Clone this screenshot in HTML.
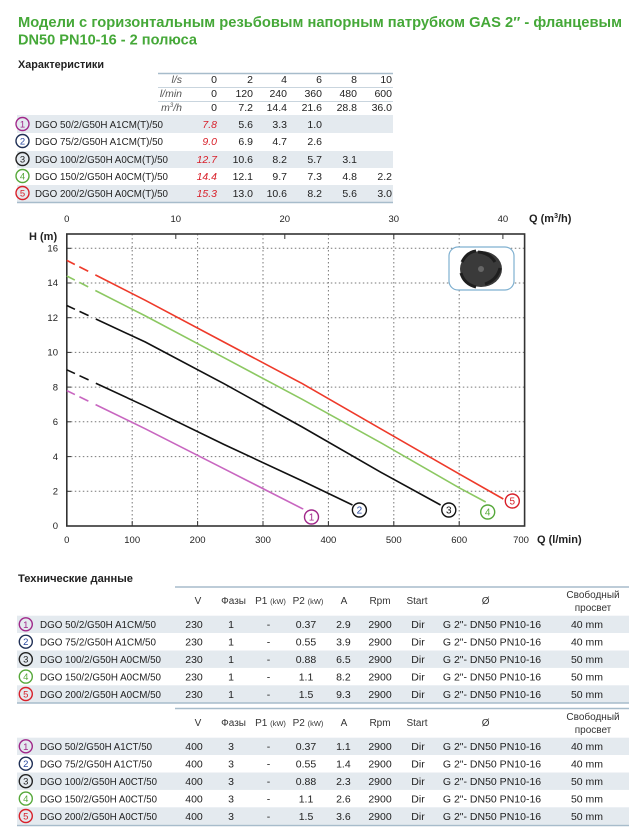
<!DOCTYPE html>
<html><head><meta charset="utf-8"><style>
html,body{margin:0;padding:0;background:#fff;}
svg{display:block;font-family:"Liberation Sans","DejaVu Sans",sans-serif;}
</style></head><body>
<svg width="640" height="829" viewBox="0 0 640 829" xmlns="http://www.w3.org/2000/svg">
<text x="18" y="27" font-size="15" font-weight="bold" fill="#45a838" textLength="604" lengthAdjust="spacingAndGlyphs">Модели с горизонтальным резьбовым напорным патрубком GAS 2″ - фланцевым</text>
<text x="18" y="44.5" font-size="15" font-weight="bold" fill="#45a838" textLength="179" lengthAdjust="spacingAndGlyphs">DN50 PN10-16 - 2 полюса</text>
<text x="18" y="68" font-size="11" font-weight="bold" fill="#222" textLength="86" lengthAdjust="spacingAndGlyphs">Характеристики</text>

<g>
<rect x="17" y="115" width="376" height="18" fill="#e4eaef"/>
<rect x="17" y="151" width="376" height="17" fill="#e4eaef"/>
<rect x="17" y="185" width="376" height="17" fill="#e4eaef"/>
<line x1="158" y1="73.5" x2="393" y2="73.5" stroke="#a7bccb" stroke-width="1.5"/>
<line x1="158" y1="87.5" x2="393" y2="87.5" stroke="#c9d5de" stroke-width="1"/>
<line x1="158" y1="101.5" x2="393" y2="101.5" stroke="#c9d5de" stroke-width="1"/>
<line x1="17" y1="202.5" x2="393" y2="202.5" stroke="#a7bccb" stroke-width="1.5"/>
<g font-size="10.5" fill="#555" font-style="italic" text-anchor="end">
<text x="182" y="83">l/s</text><text x="182" y="97">l/min</text><text x="182" y="111">m<tspan font-size="6" dy="-4">3</tspan><tspan dy="4">/h</tspan></text>
</g>
<g font-size="10.5" fill="#222" text-anchor="end">
<text x="217" y="83">0</text><text x="253" y="83">2</text><text x="287" y="83">4</text><text x="322" y="83">6</text><text x="357" y="83">8</text><text x="392" y="83">10</text>
<text x="217" y="97">0</text><text x="253" y="97">120</text><text x="287" y="97">240</text><text x="322" y="97">360</text><text x="357" y="97">480</text><text x="392" y="97">600</text>
<text x="217" y="111">0</text><text x="253" y="111">7.2</text><text x="287" y="111">14.4</text><text x="322" y="111">21.6</text><text x="357" y="111">28.8</text><text x="392" y="111">36.0</text>
<text x="253" y="128">5.6</text><text x="287" y="128">3.3</text><text x="322" y="128">1.0</text>
<text x="253" y="145">6.9</text><text x="287" y="145">4.7</text><text x="322" y="145">2.6</text>
<text x="253" y="163">10.6</text><text x="287" y="163">8.2</text><text x="322" y="163">5.7</text><text x="357" y="163">3.1</text>
<text x="253" y="180">12.1</text><text x="287" y="180">9.7</text><text x="322" y="180">7.3</text><text x="357" y="180">4.8</text><text x="392" y="180">2.2</text>
<text x="253" y="197">13.0</text><text x="287" y="197">10.6</text><text x="322" y="197">8.2</text><text x="357" y="197">5.6</text><text x="392" y="197">3.0</text>
</g>
<g font-size="10.5" fill="#d8202a" font-style="italic" text-anchor="end">
<text x="217" y="128">7.8</text><text x="217" y="145">9.0</text><text x="217" y="163">12.7</text><text x="217" y="180">14.4</text><text x="217" y="197">15.3</text>
</g>
<g fill="none" stroke-width="1.4">
<circle cx="22.5" cy="124" r="6.5" stroke="#a0288a"/><circle cx="22.5" cy="141" r="6.5" stroke="#1f2f55"/><circle cx="22.5" cy="159" r="6.5" stroke="#222"/><circle cx="22.5" cy="176" r="6.5" stroke="#56a83a"/><circle cx="22.5" cy="193" r="6.5" stroke="#d8202a"/>
</g>
<g font-size="9.5" text-anchor="middle">
<text x="22.5" y="127.5" fill="#a0288a">1</text><text x="22.5" y="144.5" fill="#2a4aa0">2</text><text x="22.5" y="162.5" fill="#222">3</text><text x="22.5" y="179.5" fill="#56a83a">4</text><text x="22.5" y="196.5" fill="#d8202a">5</text>
</g>
<g font-size="10.5" fill="#222">
<text x="35" y="128" textLength="128" lengthAdjust="spacingAndGlyphs">DGO 50/2/G50H A1CM(T)/50</text>
<text x="35" y="145" textLength="128" lengthAdjust="spacingAndGlyphs">DGO 75/2/G50H A1CM(T)/50</text>
<text x="35" y="163" textLength="133" lengthAdjust="spacingAndGlyphs">DGO 100/2/G50H A0CM(T)/50</text>
<text x="35" y="180" textLength="133" lengthAdjust="spacingAndGlyphs">DGO 150/2/G50H A0CM(T)/50</text>
<text x="35" y="197" textLength="133" lengthAdjust="spacingAndGlyphs">DGO 200/2/G50H A0CM(T)/50</text>
</g>
</g>

<g>
<g stroke="#777" stroke-width="1" stroke-dasharray="1.5,2.5">
<line x1="132.2" y1="234" x2="132.2" y2="526"/><line x1="197.6" y1="234" x2="197.6" y2="526"/><line x1="263" y1="234" x2="263" y2="526"/><line x1="328.4" y1="234" x2="328.4" y2="526"/><line x1="393.8" y1="234" x2="393.8" y2="526"/><line x1="459.2" y1="234" x2="459.2" y2="526"/>
<line x1="66.8" y1="491.3" x2="524.6" y2="491.3"/><line x1="66.8" y1="456.6" x2="524.6" y2="456.6"/><line x1="66.8" y1="421.8" x2="524.6" y2="421.8"/><line x1="66.8" y1="387.1" x2="524.6" y2="387.1"/><line x1="66.8" y1="352.4" x2="524.6" y2="352.4"/><line x1="66.8" y1="317.7" x2="524.6" y2="317.7"/><line x1="66.8" y1="283" x2="524.6" y2="283"/><line x1="66.8" y1="248.3" x2="524.6" y2="248.3"/>
</g>
<rect x="66.8" y="234" width="457.8" height="292" fill="none" stroke="#333" stroke-width="1.6"/>
<g stroke="#333" stroke-width="1">
<line x1="66.8" y1="491.3" x2="71" y2="491.3"/><line x1="66.8" y1="456.6" x2="71" y2="456.6"/><line x1="66.8" y1="421.8" x2="71" y2="421.8"/><line x1="66.8" y1="387.1" x2="71" y2="387.1"/><line x1="66.8" y1="352.4" x2="71" y2="352.4"/><line x1="66.8" y1="317.7" x2="71" y2="317.7"/><line x1="66.8" y1="283" x2="71" y2="283"/><line x1="66.8" y1="248.3" x2="71" y2="248.3"/>
<line x1="132.2" y1="526" x2="132.2" y2="521"/><line x1="197.6" y1="526" x2="197.6" y2="521"/><line x1="263" y1="526" x2="263" y2="521"/><line x1="328.4" y1="526" x2="328.4" y2="521"/><line x1="393.8" y1="526" x2="393.8" y2="521"/><line x1="459.2" y1="526" x2="459.2" y2="521"/>
<line x1="175.8" y1="234" x2="175.8" y2="239"/><line x1="284.8" y1="234" x2="284.8" y2="239"/><line x1="393.8" y1="234" x2="393.8" y2="239"/><line x1="502.9" y1="234" x2="502.9" y2="239"/>
</g>
<g font-size="9.5" fill="#222" text-anchor="middle">
<text x="66.8" y="222">0</text><text x="175.8" y="222">10</text><text x="284.8" y="222">20</text><text x="393.8" y="222">30</text><text x="502.9" y="222">40</text>
<text x="66.8" y="543">0</text><text x="132.2" y="543">100</text><text x="197.6" y="543">200</text><text x="263" y="543">300</text><text x="328.4" y="543">400</text><text x="393.8" y="543">500</text><text x="459.2" y="543">600</text><text x="521" y="543">700</text>
</g>
<g font-size="9.5" fill="#222" text-anchor="end">
<text x="58" y="529">0</text><text x="58" y="494.5">2</text><text x="58" y="460">4</text><text x="58" y="425">6</text><text x="58" y="390.5">8</text><text x="58" y="355.5">10</text><text x="58" y="321">12</text><text x="58" y="286">14</text><text x="58" y="251.5">16</text>
</g>
<text x="29" y="240" font-size="11" font-weight="bold" fill="#222">H (m)</text>
<text x="529" y="222" font-size="11" font-weight="bold" fill="#222">Q (m<tspan font-size="7" dy="-4">3</tspan><tspan dy="4">/h)</tspan></text>
<text x="537" y="543" font-size="11" font-weight="bold" fill="#222">Q (l/min)</text>

<rect x="449" y="247" width="65" height="43" rx="9" fill="#fff" stroke="#7fb0d0" stroke-width="1.2"/>
<ellipse cx="481" cy="269" rx="21" ry="18" fill="#3a3a3a"/>
<path d="M478 252 q12 1 17 10 M500 268 q-3 12 -15 16 M476 287 q-12 -3 -15 -14 M462 262 q5 -10 14 -11" stroke="#1e1e1e" stroke-width="3" fill="none"/>
<circle cx="481" cy="269" r="3" fill="#666"/>

<g fill="none" stroke-width="1.6" stroke-dasharray="9,5,10,8,2000">
<polyline stroke="#c866c0" points="66.8,390.6 145.3,428.8 223.8,468.7 302.2,508.6 303.3,508.8"/>
<polyline stroke="#111" points="66.8,369.8 145.3,406.2 223.8,444.4 302.2,480.9 352.5,505"/>
<polyline stroke="#111" points="66.8,305.5 145.3,342 223.8,383.6 302.2,427 380.7,472.2 440.6,505"/>
<polyline stroke="#8cc862" points="66.8,276 145.3,315.9 223.8,357.6 302.2,399.3 380.7,442.7 459.2,487.8 485.7,502"/>
<polyline stroke="#ee3a2a" points="66.8,260.4 145.3,300.3 223.8,342 302.2,383.6 380.7,428.8 459.2,473.9 503.3,499"/>
</g>
<g fill="#fff" stroke-width="1.4">
<circle cx="311.5" cy="517" r="7" stroke="#a0288a"/><circle cx="359.4" cy="510" r="7" stroke="#111"/><circle cx="448.8" cy="510" r="7" stroke="#111"/><circle cx="487.7" cy="512" r="7" stroke="#56a83a"/><circle cx="512.3" cy="501" r="7" stroke="#d8202a"/>
</g>
<g font-size="10" text-anchor="middle">
<text x="311.5" y="520.5" fill="#a0288a">1</text><text x="359.4" y="513.5" fill="#2a4aa0">2</text><text x="448.8" y="513.5" fill="#111">3</text><text x="487.7" y="515.5" fill="#56a83a">4</text><text x="512.3" y="504.5" fill="#d8202a">5</text>
</g>
</g>

<text x="18" y="582" font-size="11" font-weight="bold" fill="#222" textLength="115" lengthAdjust="spacingAndGlyphs">Технические данные</text>
<g>
<rect x="17" y="615.7" width="612" height="17.3" fill="#e4eaef"/>
<rect x="17" y="650.5" width="612" height="17.4" fill="#e4eaef"/>
<rect x="17" y="685.3" width="612" height="17.4" fill="#e4eaef"/>
<rect x="17" y="737.7" width="612" height="17.3" fill="#e4eaef"/>
<rect x="17" y="772.5" width="612" height="17.4" fill="#e4eaef"/>
<rect x="17" y="807.3" width="612" height="17.4" fill="#e4eaef"/>
<line x1="175" y1="587" x2="629" y2="587" stroke="#a7bccb" stroke-width="1.5"/>
<line x1="17" y1="703" x2="629" y2="703" stroke="#a7bccb" stroke-width="1.5"/>
<line x1="175" y1="708.5" x2="629" y2="708.5" stroke="#a7bccb" stroke-width="1.5"/>
<line x1="17" y1="825.5" x2="629" y2="825.5" stroke="#a7bccb" stroke-width="1.5"/>
<g font-size="10" fill="#333" text-anchor="middle">
<text x="198" y="604">V</text><text x="233.6" y="604">Фазы</text><text x="270.5" y="604">P1 <tspan font-size="7.5">(kW)</tspan></text><text x="308" y="604">P2 <tspan font-size="7.5">(kW)</tspan></text><text x="344" y="604">A</text><text x="380" y="604">Rpm</text><text x="417" y="604">Start</text><text x="485.7" y="604">Ø</text><text x="593" y="598">Свободный</text><text x="593" y="611">просвет</text>
<text x="198" y="726">V</text><text x="233.6" y="726">Фазы</text><text x="270.5" y="726">P1 <tspan font-size="7.5">(kW)</tspan></text><text x="308" y="726">P2 <tspan font-size="7.5">(kW)</tspan></text><text x="344" y="726">A</text><text x="380" y="726">Rpm</text><text x="417" y="726">Start</text><text x="485.7" y="726">Ø</text><text x="593" y="720">Свободный</text><text x="593" y="733">просвет</text>
</g>
<g font-size="10.5" fill="#222" text-anchor="middle">
<text x="194" y="628">230</text><text x="231" y="628">1</text><text x="268.5" y="628">-</text><text x="306" y="628">0.37</text><text x="343.4" y="628">2.9</text><text x="380" y="628">2900</text><text x="418" y="628">Dir</text><text x="492" y="628">G 2"- DN50 PN10-16</text><text x="587" y="628">40 mm</text>
<text x="194" y="645.5">230</text><text x="231" y="645.5">1</text><text x="268.5" y="645.5">-</text><text x="306" y="645.5">0.55</text><text x="343.4" y="645.5">3.9</text><text x="380" y="645.5">2900</text><text x="418" y="645.5">Dir</text><text x="492" y="645.5">G 2"- DN50 PN10-16</text><text x="587" y="645.5">40 mm</text>
<text x="194" y="663">230</text><text x="231" y="663">1</text><text x="268.5" y="663">-</text><text x="306" y="663">0.88</text><text x="343.4" y="663">6.5</text><text x="380" y="663">2900</text><text x="418" y="663">Dir</text><text x="492" y="663">G 2"- DN50 PN10-16</text><text x="587" y="663">50 mm</text>
<text x="194" y="680.5">230</text><text x="231" y="680.5">1</text><text x="268.5" y="680.5">-</text><text x="306" y="680.5">1.1</text><text x="343.4" y="680.5">8.2</text><text x="380" y="680.5">2900</text><text x="418" y="680.5">Dir</text><text x="492" y="680.5">G 2"- DN50 PN10-16</text><text x="587" y="680.5">50 mm</text>
<text x="194" y="698">230</text><text x="231" y="698">1</text><text x="268.5" y="698">-</text><text x="306" y="698">1.5</text><text x="343.4" y="698">9.3</text><text x="380" y="698">2900</text><text x="418" y="698">Dir</text><text x="492" y="698">G 2"- DN50 PN10-16</text><text x="587" y="698">50 mm</text>
<text x="194" y="750">400</text><text x="231" y="750">3</text><text x="268.5" y="750">-</text><text x="306" y="750">0.37</text><text x="343.4" y="750">1.1</text><text x="380" y="750">2900</text><text x="418" y="750">Dir</text><text x="492" y="750">G 2"- DN50 PN10-16</text><text x="587" y="750">40 mm</text>
<text x="194" y="767.5">400</text><text x="231" y="767.5">3</text><text x="268.5" y="767.5">-</text><text x="306" y="767.5">0.55</text><text x="343.4" y="767.5">1.4</text><text x="380" y="767.5">2900</text><text x="418" y="767.5">Dir</text><text x="492" y="767.5">G 2"- DN50 PN10-16</text><text x="587" y="767.5">40 mm</text>
<text x="194" y="785">400</text><text x="231" y="785">3</text><text x="268.5" y="785">-</text><text x="306" y="785">0.88</text><text x="343.4" y="785">2.3</text><text x="380" y="785">2900</text><text x="418" y="785">Dir</text><text x="492" y="785">G 2"- DN50 PN10-16</text><text x="587" y="785">50 mm</text>
<text x="194" y="802.5">400</text><text x="231" y="802.5">3</text><text x="268.5" y="802.5">-</text><text x="306" y="802.5">1.1</text><text x="343.4" y="802.5">2.6</text><text x="380" y="802.5">2900</text><text x="418" y="802.5">Dir</text><text x="492" y="802.5">G 2"- DN50 PN10-16</text><text x="587" y="802.5">50 mm</text>
<text x="194" y="820">400</text><text x="231" y="820">3</text><text x="268.5" y="820">-</text><text x="306" y="820">1.5</text><text x="343.4" y="820">3.6</text><text x="380" y="820">2900</text><text x="418" y="820">Dir</text><text x="492" y="820">G 2"- DN50 PN10-16</text><text x="587" y="820">50 mm</text>
</g>
<g fill="none" stroke-width="1.4">
<circle cx="25.8" cy="624.3" r="6.5" stroke="#a0288a"/><circle cx="25.8" cy="641.7" r="6.5" stroke="#1f2f55"/><circle cx="25.8" cy="659.2" r="6.5" stroke="#222"/><circle cx="25.8" cy="676.6" r="6.5" stroke="#56a83a"/><circle cx="25.8" cy="694" r="6.5" stroke="#d8202a"/>
<circle cx="25.8" cy="746.3" r="6.5" stroke="#a0288a"/><circle cx="25.8" cy="763.7" r="6.5" stroke="#1f2f55"/><circle cx="25.8" cy="781.2" r="6.5" stroke="#222"/><circle cx="25.8" cy="798.6" r="6.5" stroke="#56a83a"/><circle cx="25.8" cy="816" r="6.5" stroke="#d8202a"/>
</g>
<g font-size="9.5" text-anchor="middle">
<text x="25.8" y="627.8" fill="#a0288a">1</text><text x="25.8" y="645.2" fill="#2a4aa0">2</text><text x="25.8" y="662.7" fill="#222">3</text><text x="25.8" y="680.1" fill="#56a83a">4</text><text x="25.8" y="697.5" fill="#d8202a">5</text>
<text x="25.8" y="749.8" fill="#a0288a">1</text><text x="25.8" y="767.2" fill="#2a4aa0">2</text><text x="25.8" y="784.7" fill="#222">3</text><text x="25.8" y="802.1" fill="#56a83a">4</text><text x="25.8" y="819.5" fill="#d8202a">5</text>
</g>
<g font-size="10.5" fill="#222">
<text x="40" y="628" textLength="116" lengthAdjust="spacingAndGlyphs">DGO 50/2/G50H A1CM/50</text>
<text x="40" y="645.5" textLength="116" lengthAdjust="spacingAndGlyphs">DGO 75/2/G50H A1CM/50</text>
<text x="40" y="663" textLength="121" lengthAdjust="spacingAndGlyphs">DGO 100/2/G50H A0CM/50</text>
<text x="40" y="680.5" textLength="121" lengthAdjust="spacingAndGlyphs">DGO 150/2/G50H A0CM/50</text>
<text x="40" y="698" textLength="121" lengthAdjust="spacingAndGlyphs">DGO 200/2/G50H A0CM/50</text>
<text x="40" y="750" textLength="112" lengthAdjust="spacingAndGlyphs">DGO 50/2/G50H A1CT/50</text>
<text x="40" y="767.5" textLength="112" lengthAdjust="spacingAndGlyphs">DGO 75/2/G50H A1CT/50</text>
<text x="40" y="785" textLength="117" lengthAdjust="spacingAndGlyphs">DGO 100/2/G50H A0CT/50</text>
<text x="40" y="802.5" textLength="117" lengthAdjust="spacingAndGlyphs">DGO 150/2/G50H A0CT/50</text>
<text x="40" y="820" textLength="117" lengthAdjust="spacingAndGlyphs">DGO 200/2/G50H A0CT/50</text>
</g>
</g>
</svg>
</body></html>
